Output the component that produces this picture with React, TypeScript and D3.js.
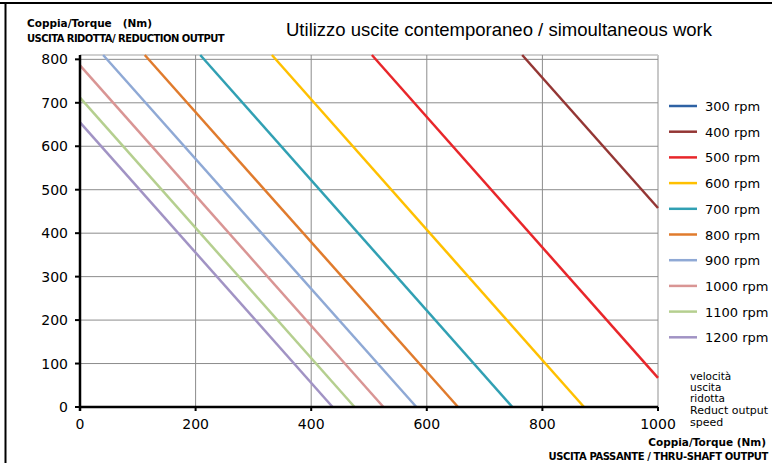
import React from "react";
import * as d3 from "d3";

const seriesNames = ["300 rpm", "400 rpm", "500 rpm", "600 rpm", "700 rpm", "800 rpm", "900 rpm", "1000 rpm", "1100 rpm", "1200 rpm"];
const seriesColors = ["#2E62A4", "#943634", "#E8262A", "#FFC000", "#31A0B3", "#E07B2D", "#8FA9D5", "#D99594", "#B5CF8F", "#A193C4"];
// [thru-shaft torque, reduction torque] end points of each straight line
const rpm300: [number, number][] = [];
const rpm400: [number, number][] = [[765, 810], [1000, 458]];
const rpm500: [number, number][] = [[505, 810], [1000, 67]];
const rpm600: [number, number][] = [[332, 810], [872, 0]];
const rpm700: [number, number][] = [[208, 810], [748, 0]];
const rpm800: [number, number][] = [[112, 810], [654, 0]];
const rpm900: [number, number][] = [[40, 810], [582, 0]];
const rpm1000: [number, number][] = [[0, 786], [525, 0]];
const rpm1100: [number, number][] = [[0, 712], [475, 0]];
const rpm1200: [number, number][] = [[0, 655], [437, 0]];
const seriesData = [rpm300, rpm400, rpm500, rpm600, rpm700, rpm800, rpm900, rpm1000, rpm1100, rpm1200];

const xTicks = [0, 200, 400, 600, 800, 1000];
const yTicks = [0, 100, 200, 300, 400, 500, 600, 700, 800];

const GEO = "'DejaVu Sans', sans-serif";

export default function App() {
  const x = d3.scaleLinear().domain([0, 1000]).range([80, 658]);
  const y = d3.scaleLinear().domain([0, 810]).range([407, 55]);
  const line = d3.line<[number, number]>().x((d) => x(d[0])).y((d) => y(d[1]));
  const legendY0 = 106;
  const legendStep = 25.7;
  return (
    <svg width={772} height={463} style={{ position: "absolute", left: 0, top: 0, background: "#fff" }}>
      <rect x={0} y={0} width={772} height={463} fill="#fff" />
      <line x1={0} x2={772} y1={3} y2={3} stroke="#000" strokeWidth={2} />
      <line x1={5.5} x2={5.5} y1={3} y2={463} stroke="#000" strokeWidth={2} />
      {/* plot border */}
      <line x1={x(0)} x2={x(1000)} y1={y(810)} y2={y(810)} stroke="#d0d0d0" strokeWidth={2} />
      <line x1={x(1000)} x2={x(1000)} y1={y(810)} y2={y(0)} stroke="#c8c8c8" strokeWidth={2} />
      {/* grid */}
      {yTicks.filter((t) => t > 0).map((t) => (
        <line key={"gy" + t} x1={x(0)} x2={x(1000)} y1={y(t)} y2={y(t)} stroke="#8c8c8c" strokeWidth={1} />
      ))}
      {xTicks.filter((t) => t > 0 && t < 1000).map((t) => (
        <line key={"gx" + t} x1={x(t)} x2={x(t)} y1={y(810)} y2={y(0)} stroke="#8c8c8c" strokeWidth={1} />
      ))}
      {/* series */}
      {seriesData.map((d, i) =>
        d.length ? (
          <path key={"s" + i} d={line(d) || ""} fill="none" stroke={seriesColors[i]} strokeWidth={2.5} />
        ) : null
      )}
      {/* axes */}
      <line x1={x(0)} x2={x(1000)} y1={y(0)} y2={y(0)} stroke="#000" strokeWidth={2.5} />
      <line x1={x(0)} x2={x(0)} y1={y(810)} y2={y(0) + 4} stroke="#000" strokeWidth={2.5} />
      {yTicks.map((t) => (
        <g key={"yt" + t}>
          <line x1={x(0) - 5} x2={x(0)} y1={y(t)} y2={y(t)} stroke="#000" strokeWidth={2} />
          <text x={68} y={y(t) + 5} textAnchor="end" fontFamily={GEO} fontSize={14} fill="#000">{t}</text>
        </g>
      ))}
      {xTicks.map((t) => (
        <g key={"xt" + t}>
          <line x1={x(t)} x2={x(t)} y1={y(0)} y2={y(0) + 4} stroke="#000" strokeWidth={2} />
          <text x={x(t)} y={429} textAnchor="middle" fontFamily={GEO} fontSize={14} fill="#000">{t}</text>
        </g>
      ))}
      {/* titles */}
      <text x={286} y={36} textLength={426} lengthAdjust="spacingAndGlyphs" fontFamily="'Liberation Sans', Arial, sans-serif" fontSize={18.5} fill="#000">Utilizzo uscite contemporaneo / simoultaneous work</text>
      <text x={27} y={27} fontFamily={GEO} fontWeight="bold" fontSize={10.5} fill="#000" xmlSpace="preserve">Coppia/Torque   (Nm)</text>
      <text x={27} y={42} fontFamily={GEO} fontWeight="bold" fontSize={10} fill="#000" letterSpacing={-0.55}>USCITA RIDOTTA/ REDUCTION OUTPUT</text>
      <text x={766} y={446} textAnchor="end" fontFamily={GEO} fontWeight="bold" fontSize={10.5} fill="#000">Coppia/Torque (Nm)</text>
      <text x={768} y={460} textAnchor="end" fontFamily={GEO} fontWeight="bold" fontSize={10} fill="#000" letterSpacing={-0.4}>USCITA PASSANTE / THRU-SHAFT OUTPUT</text>
      {/* legend */}
      {seriesNames.map((n, i) => (
        <g key={"lg" + i}>
          <line x1={669} x2={697} y1={legendY0 + i * legendStep} y2={legendY0 + i * legendStep} stroke={seriesColors[i]} strokeWidth={2.5} />
          <text x={705} y={legendY0 + i * legendStep + 5} fontFamily={GEO} fontSize={13} fill="#000">{n}</text>
        </g>
      ))}
      {["velocità", "uscita", "ridotta"].map((s, i) => (
        <text key={"v" + i} x={690} y={380 + i * 11} fontFamily={GEO} fontSize={10.5} fill="#000">{s}</text>
      ))}
      {["Reduct output", "speed"].map((s, i) => (
        <text key={"r" + i} x={690} y={414 + i * 11.5} fontFamily={GEO} fontSize={11} fill="#000">{s}</text>
      ))}
    </svg>
  );
}
